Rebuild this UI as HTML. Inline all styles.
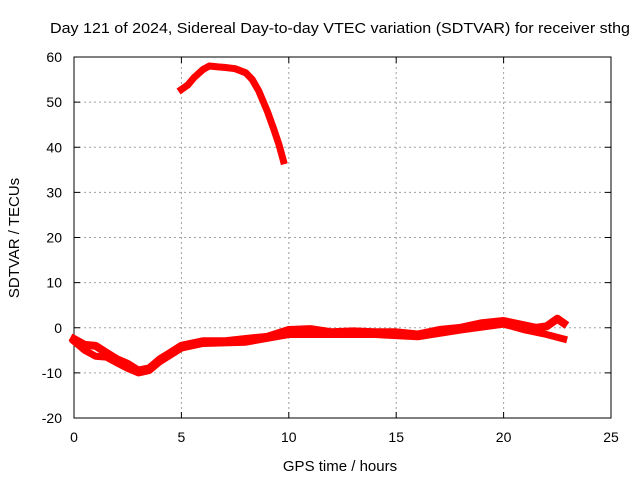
<!DOCTYPE html>
<html><head><meta charset="utf-8"><style>
body{margin:0;background:#fff;}
svg{display:block;font-family:"Liberation Sans",sans-serif;}
</style></head><body>
<svg id="c" width="640" height="480"></svg>
<script>
const xTicks=[0,5,10,15,20,25];
const yTicks=[-20,-10,0,10,20,30,40,50,60];
const arcHours=[5.0,5.3,5.6,6.0,6.3,6.7,7.0,7.5,8.0,8.3,8.6,9.0,9.3,9.55,9.75];
const arcValues=[52.8,53.8,55.5,57.2,58,57.8,57.7,57.4,56.5,55,52.5,48,44,40.5,37];
const lowHours=[0,0.5,1,1.5,2,2.5,3,3.5,4,4.5,5,6,7,8,9,10,11,12,13,14,15,16,17,18,19,20,21,21.5,22,22.5,22.8];
const lowValues=[-2.5,-3.8,-4,-5.5,-7,-8,-9.5,-9,-7,-5.5,-4,-3,-3,-2.5,-2,-0.5,-0.3,-1,-0.8,-1,-1,-1.5,-0.5,0,1,1.5,0.5,0,0.3,2,1];
const spreadHours=[0,0.5,1,1.5,2,2.5,3,3.5,4,5,6,8,10,12,14,16,18,20,21,22,22.8];
const spreadValues=[-3,-5,-6.3,-6.5,-7.8,-9,-10,-9.5,-7.5,-4.5,-3.5,-3.2,-1.5,-1.5,-1.5,-2,-0.5,0.8,-0.5,-1.5,-2.5];
const L=74,R=611,T=57,B=418;
const sx=v=>L+(v-0)/(25-0)*(R-L);
const sy=v=>B-(v+20)/80*(B-T);
const svg=document.getElementById('c');
const NS='http://www.w3.org/2000/svg';
function mk(t,a,p){const e=document.createElementNS(NS,t);for(const k in a)e.setAttribute(k,a[k]);(p||svg).appendChild(e);return e;}
xTicks.forEach(v=>{const x=sx(v);
 if(v>0&&v<25){const g=mk('line',{x1:x,x2:x,y1:T,y2:B,stroke:'#a0a0a0','stroke-dasharray':'2,3','stroke-width':1});
 
 }
 mk('line',{x1:x,x2:x,y1:B,y2:B-6,stroke:'#000'});mk('line',{x1:x,x2:x,y1:T,y2:T+6,stroke:'#000'});
 const t=mk('text',{x:x,y:442,'text-anchor':'middle','font-size':14,fill:'#000'});t.textContent=v;
 
 
});
yTicks.forEach(v=>{const y=sy(v);
 if(v>-20&&v<60){const g=mk('line',{x1:L,x2:R,y1:y,y2:y,stroke:'#a0a0a0','stroke-dasharray':'2,3','stroke-width':1});
 
 }
 mk('line',{x1:L,x2:L+6,y1:y,y2:y,stroke:'#000'});mk('line',{x1:R,x2:R-6,y1:y,y2:y,stroke:'#000'});
 const t=mk('text',{x:62,y:y+5,'text-anchor':'end','font-size':14,fill:'#000'});t.textContent=v;
 
 
});
const fr=mk('rect',{x:L,y:T,width:R-L,height:B-T,fill:'none',stroke:'#000','stroke-width':1});


function series(hs,vs,w,name){const d=hs.map((h,i)=>(i?'L':'M')+sx(h).toFixed(1)+','+sy(vs[i]).toFixed(1)).join('');
 const p=mk('path',{d:d,fill:'none',stroke:'#ff0000','stroke-width':w,'stroke-linejoin':'round','stroke-linecap':'square'});
 
 }
series(spreadHours,spreadValues,7,'sdtvar-series-spread');
series(lowHours,lowValues,8,'sdtvar-series-low');
series(arcHours,arcValues,7,'sdtvar-series-arc');
const ti=mk('text',{x:340,y:33,'text-anchor':'middle','font-size':15,fill:'#000',textLength:580,lengthAdjust:'spacingAndGlyphs'});ti.textContent='Day 121 of 2024, Sidereal Day-to-day VTEC variation (SDTVAR) for receiver sthg';


const xl=mk('text',{x:340,y:471,'text-anchor':'middle','font-size':15,fill:'#000'});xl.textContent='GPS time / hours';


const yl=mk('text',{x:0,y:0,'text-anchor':'middle','font-size':15,fill:'#000',transform:'translate(19,238) rotate(-90)'});yl.textContent='SDTVAR / TECUs';


</script>
</body></html>
